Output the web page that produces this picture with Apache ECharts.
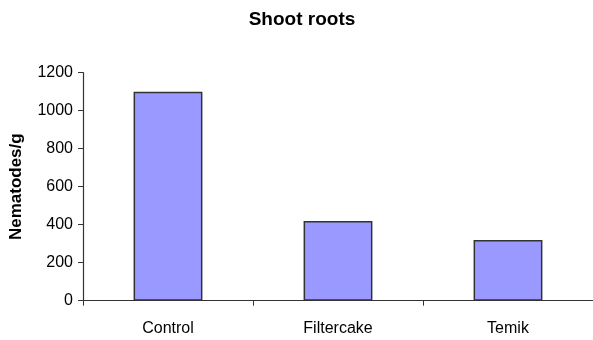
<!DOCTYPE html>
<html><head><meta charset="utf-8">
<script src="https://cdn.jsdelivr.net/npm/echarts@6/dist/echarts.min.js"></script>
<style>html,body{margin:0;padding:0;background:#fff}#c{width:593px;height:340px}</style>
</head><body><div id="c"></div>
<script>
const categories = ['Control', 'Filtercake', 'Temik'];
const values = [1100, 420, 320];
const yTicks = [0, 200, 400, 600, 800, 1000, 1200];
const titleText = 'Shoot roots';
const yName = 'Nematodes/g';

const chart = echarts.init(document.getElementById('c'), null, {renderer: 'canvas'});
const font = 'Liberation Sans, Arial, sans-serif';
chart.setOption({
  animation: false,
  backgroundColor: '#fff',
  title: {text: titleText, left: 297, top: 5, textAlign: 'center',
    textStyle: {fontFamily: font, fontSize: 19, fontWeight: 'bold', color: '#000'}},
  grid: {left: 83, right: 0, top: 72.7, bottom: 39.3, containLabel: false},
  xAxis: {type: 'category', data: categories,
    axisLine: {lineStyle: {color: '#333', width: 1.2}},
    axisTick: {show: true, length: 5, lineStyle: {color: '#333'}},
    axisLabel: {fontFamily: font, fontSize: 16, color: '#000', margin: 20}},
  yAxis: {type: 'value', min: yTicks[0], max: yTicks[yTicks.length - 1], interval: 200,
    name: yName, nameLocation: 'middle', nameRotate: 90, nameGap: 58,
    nameTextStyle: {fontFamily: font, fontSize: 17, fontWeight: 'bold', color: '#000'},
    axisLine: {show: true, lineStyle: {color: '#333', width: 1.2}},
    axisTick: {show: true, length: 5, lineStyle: {color: '#333'}},
    splitLine: {show: false},
    axisLabel: {fontFamily: font, fontSize: 16, color: '#000', margin: 10,
      formatter: v => String(v)}},
  series: [{type: 'bar', data: values, barWidth: '40.5%',
    itemStyle: {color: '#9999FF', borderColor: '#333', borderWidth: 1.5}}]
});
</script></body></html>
